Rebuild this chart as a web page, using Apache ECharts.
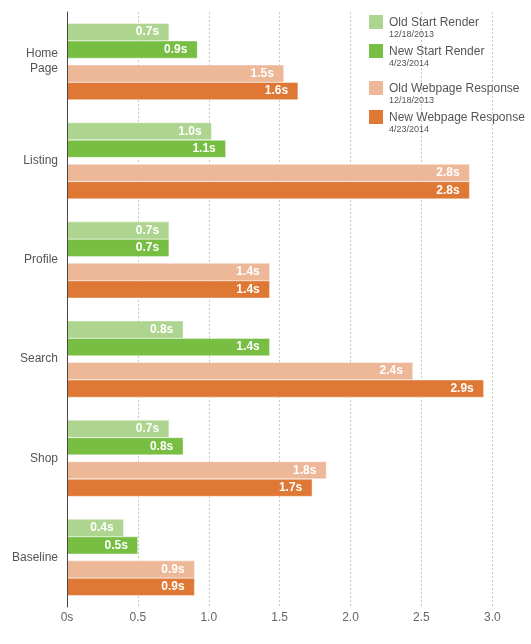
<!DOCTYPE html>
<html>
<head>
<meta charset="utf-8">
<script src="https://cdn.jsdelivr.net/npm/echarts@6/dist/echarts.min.js"></script>
<style>
html,body{margin:0;padding:0;background:#fff;}
#chart{width:531px;height:644px;}
</style>
</head>
<body>
<div id="chart"></div>
<script>
var categories = ['Home\nPage', 'Listing', 'Profile', 'Search', 'Shop', 'Baseline'];
var oldStartRender = [0.72, 1.02, 0.72, 0.82, 0.72, 0.40];
var newStartRender = [0.92, 1.12, 0.72, 1.43, 0.82, 0.50];
var oldWebpageResponse = [1.53, 2.84, 1.43, 2.44, 1.83, 0.90];
var newWebpageResponse = [1.63, 2.84, 1.43, 2.94, 1.73, 0.90];
var seriesNames = ['Old Start Render', 'New Start Render', 'Old Webpage Response', 'New Webpage Response'];
var seriesDates = ['12/18/2013', '4/23/2014', '12/18/2013', '4/23/2014'];
var xTicks = ['0s', '0.5', '1.0', '1.5', '2.0', '2.5', '3.0'];

var colors = ['#aed58f', '#77be43', '#ecb898', '#df7835'];
var FONT = '"Liberation Sans", Arial, sans-serif';

var chart = echarts.init(document.getElementById('chart'), null, {renderer: 'canvas'});

function barSeries(name, data, color) {
  return {
    name: name,
    type: 'bar',
    data: data,
    barWidth: 17.5,
    barGap: '0%',
    itemStyle: {color: color, borderColor: '#fff', borderWidth: 0.4},
    label: {
      show: true,
      position: 'insideRight',
      distance: 10,
      color: '#fff',
      fontFamily: FONT,
      fontSize: 12,
      fontWeight: 'bold',
      formatter: function (p) { return p.value.toFixed(1) + 's'; }
    }
  };
}

var legendTops = [13, 42, 79, 108];
var legends = seriesNames.map(function (n, i) {
  return {
    data: [n],
    left: 367,
    top: legendTops[i],
    orient: 'vertical',
    icon: 'rect',
    itemWidth: 16,
    itemHeight: 16,
    padding: 0,
    selectedMode: false,
    formatter: function (name) {
      return '{n|' + name + '}\n{d|' + seriesDates[seriesNames.indexOf(name)] + '}';
    },
    textStyle: {
      padding: [12, 0, 0, 0],
      rich: {
        n: {fontSize: 12, fontFamily: FONT, color: '#555', lineHeight: 13},
        d: {fontSize: 9, fontFamily: FONT, color: '#555', lineHeight: 10}
      }
    }
  };
});

var option = {
  backgroundColor: '#fff',
  animation: false,
  color: colors,
  legend: legends,
  grid: {left: 67, right: 38.7, top: 12, bottom: 37, containLabel: false},
  xAxis: {
    type: 'value',
    min: 0,
    max: 3,
    interval: 0.5,
    axisLine: {show: false},
    axisTick: {show: false},
    axisLabel: {
      color: '#666',
      fontFamily: FONT,
      fontSize: 12,
      margin: 5,
      formatter: function (v) { return xTicks[Math.round(v / 0.5)]; }
    },
    splitLine: {show: true, lineStyle: {color: '#c8c8c8', type: [2, 2], width: 1}}
  },
  yAxis: {
    type: 'category',
    data: categories,
    inverse: true,
    z: 5,
    axisLine: {show: true, lineStyle: {color: '#444', width: 1}},
    axisTick: {show: false},
    axisLabel: {color: '#555', fontFamily: FONT, fontSize: 12, margin: 9, lineHeight: 15}
  },
  series: [
    barSeries(seriesNames[0], oldStartRender, colors[0]),
    barSeries(seriesNames[1], newStartRender, colors[1]),
    {
      name: 'spacer',
      type: 'bar',
      data: categories.map(function () { return 0; }),
      barWidth: 6.5,
      barGap: '0%',
      silent: true,
      itemStyle: {color: 'rgba(0,0,0,0)'},
      label: {show: false}
    },
    barSeries(seriesNames[2], oldWebpageResponse, colors[2]),
    barSeries(seriesNames[3], newWebpageResponse, colors[3])
  ]
};
chart.setOption(option);
</script>
</body>
</html>
